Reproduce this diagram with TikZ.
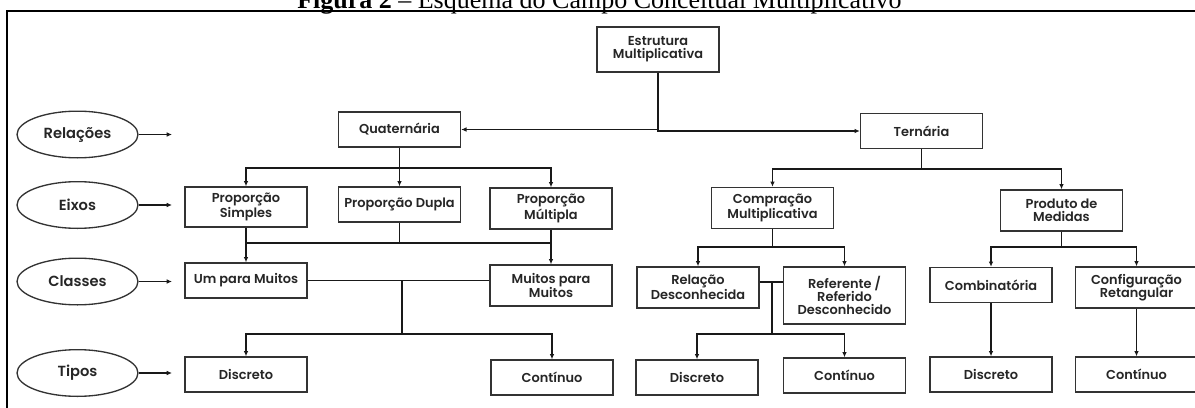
\documentclass[tikz,border=0pt]{standalone}
\usepackage{fontspec}
\setmainfont{Poppins}[BoldFont={Poppins SemiBold}]
\newfontfamily\titlefont{Liberation Serif}
\usetikzlibrary{arrows.meta,shapes.geometric}
\begin{document}
\begin{tikzpicture}[x=0.75pt,y=-0.75pt,
  box/.style={draw=black!80, line width=1pt, inner sep=1pt, align=center,
    font=\fontsize{9.7}{10}\selectfont\bfseries, text=black!85,
    minimum width=91.5pt, minimum height=26.25pt},
  boxtwo/.style={box, minimum height=30.75pt},
  boxthree/.style={box, minimum height=42.75pt},
  oval/.style={ellipse, draw=black!80, line width=1pt, inner sep=0pt,
    minimum width=90.75pt, minimum height=35pt,
    font=\fontsize{11}{12}\selectfont\bfseries, text=black!85},
  conn/.style={line width=1.1pt, black!90},
  arr/.style={conn, -{Latex[length=4pt,width=3.5pt]}},
]
\useasboundingbox (0,0) rectangle (1195,407);
\fill[white] (0,0) rectangle (1195,407);

% title and frame
\node[anchor=base west, inner sep=0pt, font=\titlefont\fontsize{19.5}{20}\selectfont] (title) at (297,8.5)
  {\textbf{Figura 2} – Esquema do Campo Conceitual Multiplicativo};
\draw[line width=1.5pt] (1205,11) -- (7,11) -- (7,415);

% left ovals
\node[oval] (rel) at (77.5,134.5) {Relações};
\node[oval] (eix) at (77.5,205) {Eixos};
\node[oval] (cla) at (77.5,281.5) {Classes};
\node[oval] (tip) at (77.5,373) {Tipos};
\coordinate (relE) at (172,134.5);
\coordinate (eixE) at (172,205);
\coordinate (claE) at (172,281.5);
\coordinate (tipE) at (172,373);
\draw[arr] (rel.east) -- (relE);
\draw[arr] (eix.east) -- (eixE);
\draw[arr] (cla.east) -- (claE);
\draw[arr] (tip.east) -- (tipE);

% boxes
\node[box, minimum height=33.75pt] (estr) at (658,49.5) {Estrutura\\Multiplicativa};
\node[box] (quat) at (399.5,129.5) {Quaternária};
\node[box] (tern) at (921.5,131) {Ternária};

\node[box, minimum height=30pt] (ps) at (246,207) {Proporção\\Simples};
\node[box] (pd) at (399.5,204.5) {Proporção Dupla};
\node[boxtwo] (pm) at (551,208.5) {Proporção\\Múltipla};
\node[boxtwo] (cm) at (772.5,208) {Compração\\Multiplicativa};
\node[boxtwo] (pdm) at (1061.5,210.5) {Produto de\\Medidas};

\node[box] (upm) at (246,280.5) {Um para Muitos};
\node[boxtwo] (mpm) at (551,285.5) {Muitos para\\Muitos};
\node[boxtwo] (rd) at (698,287.5) {Relação\\Desconhecida};
\node[boxthree] (ref) at (844.5,295.5) {Referente /\\Referido\\Desconhecido};
\node[box] (comb) at (991,285) {Combinatória};
\node[boxtwo] (conf) at (1136.5,287.5) {Configuração\\Retangular};

\node[box] (d1) at (246,374.5) {Discreto};
\node[box] (c1) at (552,377.5) {Contínuo};
\node[box] (d2) at (697,377.5) {Discreto};
\node[box] (c2) at (844.5,375.5) {Contínuo};
\node[box] (d3) at (991,374.5) {Discreto};
\node[box] (c3) at (1136.5,374.5) {Contínuo};

% top level
\draw[arr] (estr.south) |- (quat.east);
\draw[arr] (estr.south) |- (tern.west);

% quaternaria -> eixos
\coordinate (j1) at (399.5,168);
\draw[arr] (quat.south) -- (pd.north);
\draw[arr] (j1) -| (ps.north);
\draw[arr] (j1) -| (pm.north);

% eixos -> classes
\coordinate (j2) at (0,243);
\draw[arr] (ps.south) -- (upm.north);
\draw[arr] (pm.south) -- (mpm.north);
\draw[conn] (ps.south |- j2) -- (pm.south |- j2);
\draw[conn] (pd.south) -- (pd.south |- j2);

% classes -> tipos
\coordinate (j3) at (402,280.5);
\coordinate (j4) at (402,334);
\draw[conn] (upm.east) -- (upm.east -| mpm.west);
\draw[conn] (j3) -- (j4);
\draw[arr] (j4) -| (d1.north);
\draw[arr] (j4) -| (c1.north);

% ternaria -> eixos
\coordinate (j5) at (921.5,169);
\draw[conn] (tern.south) -- (j5);
\draw[arr] (j5) -| (cm.north);
\draw[arr] (j5) -| (pdm.north);

% comparacao -> classes
\coordinate (j6) at (772.5,247);
\draw[conn] (cm.south) -- (j6);
\draw[arr] (j6) -| (rd.north);
\draw[arr] (j6) -| (ref.north);

% classes -> tipos (comparacao)
\coordinate (j7) at (772,282);
\coordinate (j8) at (772,334);
\draw[conn] (rd.east |- j7) -- (j7 -| ref.west);
\draw[conn] (j7) -- (j8);
\draw[arr] (j8) -| (d2.north);
\draw[arr] (j8) -| (c2.north);

% produto -> classes
\coordinate (j9) at (1061.5,247);
\draw[conn] (pdm.south) -- (j9);
\draw[arr] (j9) -| (comb.north);
\draw[arr] (j9) -| (conf.north);

\draw[arr] (comb.south) -- (d3.north);
\draw[arr] (conf.south) -- (c3.north);
\end{tikzpicture}
\end{document}
